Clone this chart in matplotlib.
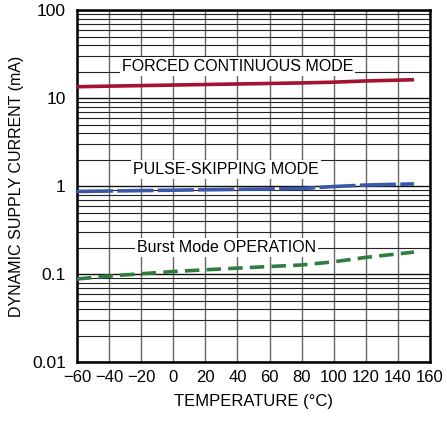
import matplotlib.pyplot as plt
from matplotlib.ticker import FixedLocator, LogLocator, NullFormatter

plt.rcParams['font.family'] = ['Liberation Sans', 'DejaVu Sans']

# temperatures (°C) and supply currents (mA)
temp = [-60, -40, -20, 0, 20, 40, 60, 80, 100, 120, 150]
forced = [13.5, 13.7, 13.9, 14.1, 14.3, 14.5, 14.7, 14.9, 15.2, 15.7, 16.2]
pulse = [0.87, 0.88, 0.89, 0.90, 0.91, 0.92, 0.93, 0.94, 0.99, 1.03, 1.06]
burst = [0.088, 0.095, 0.101, 0.107, 0.112, 0.117, 0.122, 0.127, 0.138, 0.155, 0.178]

xticks = [-60, -40, -20, 0, 20, 40, 60, 80, 100, 120, 140, 160]
yticks = [0.01, 0.1, 1, 10, 100]
ylabels = ['0.01', '0.1', '1', '10', '100']

fs = 11.5

fig = plt.figure(figsize=(4.47, 4.25), dpi=100)
ax = fig.add_axes([0.172, 0.148, 0.790, 0.828])

ax.plot(temp, forced, color='#a3122f', lw=2.6, solid_capstyle='butt', zorder=3)
ax.plot(temp, pulse, color='#3b57a8', lw=2.6, dashes=(10, 1.2), zorder=3)
ax.plot(temp, burst, color='#2f7d3f', lw=2.6, dashes=(4, 2), zorder=3)

ax.set_yscale('log')
ax.set_xlim(-60, 160)
ax.set_ylim(0.01, 100)
ax.xaxis.set_major_locator(FixedLocator(xticks))
ax.yaxis.set_major_locator(FixedLocator(yticks))
ax.set_yticklabels(ylabels)
ax.yaxis.set_minor_locator(LogLocator(base=10, subs=range(2, 10)))
ax.yaxis.set_minor_formatter(NullFormatter())
ax.grid(True, which='major', axis='x', color='#666666', lw=1.0)
ax.grid(True, which='major', axis='y', color='#111111', lw=1.0)
ax.grid(True, which='minor', axis='y', color='#222222', lw=0.8)
ax.tick_params(axis='x', length=0, labelsize=12, pad=6)
ax.tick_params(axis='y', which='both', length=0, labelsize=12.5, pad=8)
for s in ax.spines.values():
    s.set_linewidth(1.8)

ax.set_xlabel('TEMPERATURE (°C)', fontsize=12, labelpad=6)
ax.set_ylabel('DYNAMIC SUPPLY CURRENT (mA)', fontsize=fs, labelpad=6)

box = dict(facecolor='white', edgecolor='none', pad=1.5)
ax.text(40, 23, 'FORCED CONTINUOUS MODE', ha='center', va='center', fontsize=fs, bbox=box, zorder=4)
ax.text(33, 1.56, 'PULSE-SKIPPING MODE', ha='center', va='center', fontsize=fs, bbox=box, zorder=4)
ax.text(33, 0.2, 'Burst Mode OPERATION', ha='center', va='center', fontsize=fs, bbox=box, zorder=4)

fig.savefig('out.png', dpi=100)
